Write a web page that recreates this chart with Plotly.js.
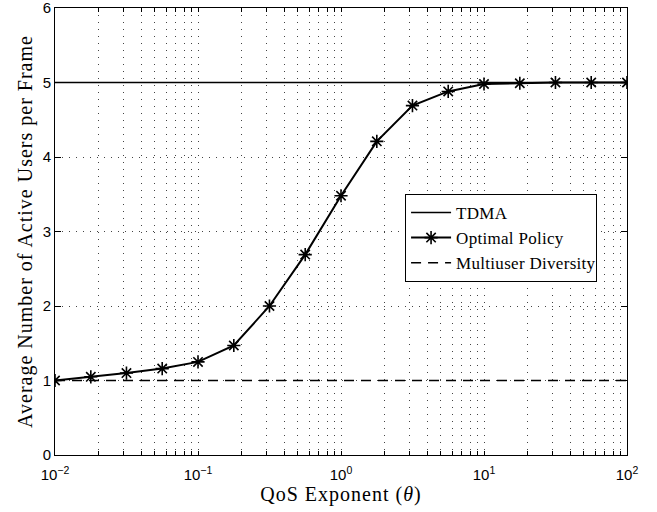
<!DOCTYPE html>
<html>
<head>
<meta charset="utf-8">
<script src="https://cdn.plot.ly/plotly-3.0.1.min.js"></script>
<style>
html,body{margin:0;padding:0;background:#fff;}
#chart{width:657px;height:512px;}
#chart .xtitle, #chart .ytitle{letter-spacing:1px;}
#chart .legendtext{letter-spacing:0.3px;}
</style>
</head>
<body>
<div id="chart"></div>
<script>
const theta = [0.01, 0.0178, 0.0316, 0.0562, 0.1, 0.178, 0.316, 0.562, 1, 1.78, 3.16, 5.62, 10, 17.8, 31.6, 56.2, 100];
const optimalPolicy = [1.0, 1.05, 1.1, 1.16, 1.25, 1.47, 2.0, 2.69, 3.48, 4.21, 4.69, 4.88, 4.98, 4.99, 5.0, 5.0, 5.0];
const tdma = [5, 5, 5, 5, 5, 5, 5, 5, 5, 5, 5, 5, 5, 5, 5, 5, 5];
const multiuserDiversity = [1, 1, 1, 1, 1, 1, 1, 1, 1, 1, 1, 1, 1, 1, 1, 1, 1];
const xDecades = [0.01, 0.1, 1, 10];
const xDecadeLabels = ['10<sup>−2</sup>', '10<sup>−1</sup>', '10<sup>0</sup>', '10<sup>1</sup>', '10<sup>2</sup>'];
const yTickVals = [0, 1, 2, 3, 4, 5, 6];

// grid / tick positions: every 1..9 within each decade, label only decades
const xTickVals = [];
const xTickText = [];
xDecades.forEach((d, i) => {
  for (let m = 1; m <= 9; m++) {
    xTickVals.push(d * m);
    xTickText.push(m === 1 ? xDecadeLabels[i] : '');
  }
});
xTickVals.push(100);
xTickText.push(xDecadeLabels[4]);

const serif = 'Liberation Serif';
const sans = 'Liberation Sans';
const gridDash = '1px,6px';

const traces = [
  {x: theta, y: tdma, name: 'TDMA', mode: 'lines', line: {color: '#000', width: 1.5}},
  {x: theta, y: optimalPolicy, name: 'Optimal Policy', mode: 'lines+markers',
   line: {color: '#000', width: 2},
   marker: {symbol: 'asterisk-open', size: 11, color: '#000', line: {color: '#000', width: 1.6}}},
  {x: theta, y: multiuserDiversity, name: 'Multiuser Diversity', mode: 'lines',
   line: {color: '#000', width: 1.5, dash: '10px,7px'}}
];

const layout = {
  width: 657, height: 512,
  margin: {l: 55, r: 30, t: 8, b: 57},
  paper_bgcolor: '#fff', plot_bgcolor: '#fff',
  font: {family: serif, size: 17, color: '#000'},
  showlegend: true,
  xaxis: {
    type: 'log', range: [-2, 2],
    tickmode: 'array', tickvals: xTickVals, ticktext: xTickText,
    tickfont: {family: sans, size: 15, color: '#000'},
    ticks: 'inside', ticklen: 4, tickcolor: '#000',
    ticklabelstandoff: 6, ticklabeloverflow: 'allow',
    showline: true, linecolor: '#000', linewidth: 1, mirror: 'ticks',
    showgrid: true, gridcolor: '#444', griddash: gridDash, gridwidth: 1,
    zeroline: false,
    title: {text: 'QoS Exponent (<i>θ</i>)', font: {family: serif, size: 20, color: '#000'}, standoff: 4}
  },
  yaxis: {
    range: [0, 6],
    tickmode: 'array', tickvals: yTickVals, ticktext: yTickVals.map(String),
    tickfont: {family: sans, size: 15, color: '#000'},
    ticks: 'inside', ticklen: 6, tickcolor: '#000',
    ticklabeloverflow: 'allow',
    showline: true, linecolor: '#000', linewidth: 1, mirror: 'ticks',
    showgrid: true, gridcolor: '#444', griddash: gridDash, gridwidth: 1,
    zeroline: false,
    title: {text: 'Average Number of Active Users per Frame', font: {family: serif, size: 20, color: '#000'}, standoff: 4}
  },
  legend: {
    x: 0.612, y: 0.584, xanchor: 'left', yanchor: 'top',
    bgcolor: '#fff', bordercolor: '#000', borderwidth: 1,
    font: {family: serif, size: 17, color: '#000'},
    tracegroupgap: 0, itemwidth: 40
  }
};

Plotly.newPlot('chart', traces, layout, {displayModeBar: false, staticPlot: true});
</script>
</body>
</html>
